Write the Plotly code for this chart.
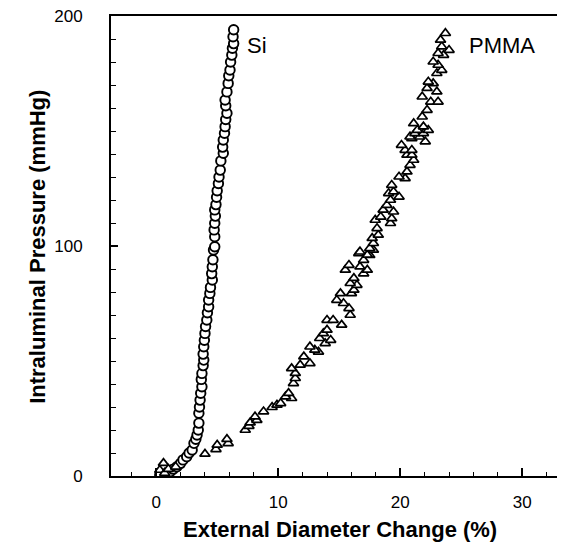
import plotly.graph_objects as go

# Si sample: external diameter change (%) vs intraluminal pressure (mmHg)
si_x = [0.3, 0.8, 1.15, 1.4, 1.7, 2.0, 2.2, 2.5, 2.7, 2.95, 3.1, 3.25, 3.35, 3.45, 3.5,
        3.5, 3.55, 3.6, 3.65, 3.75, 3.7, 3.75, 3.85, 3.9, 3.85, 3.9, 3.95, 4.0, 4.05, 4.15,
        4.2, 4.3, 4.3, 4.4, 4.45, 4.6, 4.55, 4.6, 4.65, 4.7, 4.8, 4.8, 4.75, 4.8, 4.85,
        4.8, 4.9, 4.95, 5.0, 5.1, 5.15, 5.25, 5.3, 5.5, 5.45, 5.5, 5.6, 5.65, 5.7, 5.8,
        5.7, 5.65, 5.8, 5.9, 5.95, 6.05, 6.1, 6.2, 6.25, 6.35, 6.3, 6.35]
si_y = [0.5, 1, 1.9, 3, 4, 5.5, 7, 8.4, 10, 11.3, 14.2, 16, 17.8, 20, 23,
        27.3, 30, 33, 36, 38.8, 42, 44.6, 48, 50.4, 53, 56.2, 59, 62, 65, 67.8,
        71, 73.6, 76.5, 79.4, 82, 85.2, 88, 91, 94, 98.3, 99.7, 104, 107, 109.9, 113,
        115.7, 118, 121.2, 124, 127.2, 130, 133, 137, 140.3, 143, 146.1, 149, 151.9, 155, 157.7,
        161, 163.5, 167, 170.7, 174, 176.5, 180, 183, 186, 188, 191, 194]

# PMMA sample
pmma_x = [0.3, 0.7, 0.6, 1.0, 1.6, 4.0, 4.9, 5.0, 5.9, 5.8, 7.3, 7.6, 7.7, 8.25, 8.1,
          8.8, 9.5, 9.9, 10.2, 11.1, 10.6, 10.85, 11.25, 11.4, 11.4, 11.1, 11.8, 12.6, 12.1, 13.3,
          13.0, 12.6, 13.85, 14.3, 13.4, 13.7, 14.0, 15.2, 14.0, 14.5, 15.9, 15.8, 15.35, 14.8, 15.1,
          16.0, 16.2, 16.45, 15.9, 16.2, 17.0, 15.5, 17.3, 16.7, 15.8, 17.0, 17.5, 17.3, 16.6, 16.7,
          17.8, 17.5, 17.8, 17.7, 18.2, 18.1, 19.2, 17.95, 19.3, 18.4, 19.45, 18.6, 18.9, 19.2, 19.9,
          19.05, 19.45, 19.3, 20.4, 19.9, 20.55, 20.8, 21.1, 20.55, 20.95, 20.4, 20.95, 20.1, 22.05, 20.95,
          20.8, 21.6, 21.2, 21.9, 21.4, 22.3, 21.9, 21.1, 21.8, 22.2, 22.5, 23.1, 21.8, 23.0, 22.2,
          22.7, 22.3, 23.0, 23.4, 23.1, 22.7, 23.55, 23.1, 24.0, 23.4, 23.3, 23.7]
pmma_y = [2.6, 1.3, 5.6, 3, 4, 9.6, 11.6, 13.5, 14.2, 16, 20, 21.7, 23.2, 24.3, 25.8,
          28, 29.9, 30.9, 31.6, 33.8, 34.5, 36, 40.3, 42.5, 44.7, 46.8, 48.3, 49, 51.9, 54,
          54.8, 56.2, 57.7, 59.1, 59.9, 62, 63.5, 65.7, 67.8, 67.8, 70, 72.9, 75.1, 76.5, 79.4,
          79.4, 80.9, 83, 83.8, 86, 88, 89.6, 89.6, 91, 91.7, 93.9, 96, 96.1, 96.8, 97.5,
          98.3, 99, 101.2, 103.4, 104.8, 107.7, 109.9, 111.3, 112, 112.7, 114.9, 115.7, 117.8, 120, 121.4,
          122.9, 123.6, 126.5, 129.4, 130.1, 132.3, 135.2, 137.4, 139.6, 139.6, 141.7, 141.7, 143.9, 145.4, 146.8,
          147.5, 147.5, 149, 149, 150.4, 150.4, 151.9, 153.3, 156.2, 159.1, 162.7, 162.7, 164.9, 167.1, 168.6,
          170.7, 171.4, 175.1, 176.5, 178.7, 180.1, 183, 183.8, 185.2, 186.7, 189.6, 192.5]

FONT = "Liberation Sans, Arial, sans-serif"

fig = go.Figure()
fig.add_trace(go.Scatter(
    x=si_x, y=si_y, mode="markers", name="Si",
    marker=dict(symbol="circle", size=9.5, color="white",
                line=dict(color="black", width=1.9)),
))
fig.add_trace(go.Scatter(
    x=pmma_x, y=pmma_y, mode="markers", name="PMMA",
    marker=dict(symbol="triangle-up", size=9, color="white",
                line=dict(color="black", width=1.7)),
))

fig.add_annotation(x=8.3, y=187, text="Si", showarrow=False,
                   font=dict(family=FONT, size=22, color="black"))
fig.add_annotation(x=28.3, y=187, text="PMMA", showarrow=False,
                   font=dict(family=FONT, size=22, color="black"))

# axis titles placed as annotations
fig.add_annotation(x=0.504, y=-0.117, xref="paper", yref="paper",
                   xanchor="center", yanchor="middle", showarrow=False,
                   text="<b>External Diameter Change (%)</b>",
                   font=dict(family=FONT, size=22, color="black"))
fig.add_annotation(x=-0.161, y=0.498, xref="paper", yref="paper",
                   xanchor="center", yanchor="middle", showarrow=False, textangle=-90,
                   text="<b>Intraluminal Pressure (mmHg)</b>",
                   font=dict(family=FONT, size=22, color="black"))

# page body has an 8px margin, so the figure is a bit smaller than the window
fig.update_layout(
    width=557, height=550,
    margin=dict(l=103, r=0, t=8, b=82),
    paper_bgcolor="white", plot_bgcolor="white",
    showlegend=False,
    font=dict(family=FONT, size=17, color="black"),
    xaxis=dict(
        range=[-3.7, 33.5], tickvals=[0, 10, 20, 30], showgrid=False, zeroline=False,
        showline=True, linecolor="black", linewidth=2, mirror=True,
        ticks="inside", ticklen=8, tickwidth=1.5, tickcolor="black",
        minor=dict(dtick=2, tick0=0, ticks="inside", ticklen=4, tickwidth=1.2, tickcolor="black"),
        tickfont=dict(size=17), ticklabelstandoff=10,
    ),
    yaxis=dict(
        range=[0, 200], tickvals=[0, 100, 200], showgrid=False, zeroline=False,
        showline=True, linecolor="black", linewidth=2, mirror=False,
        ticks="inside", ticklen=7, tickwidth=1.5, tickcolor="black",
        minor=dict(dtick=10, tick0=0, ticks="inside", ticklen=5, tickwidth=1.2, tickcolor="black"),
        tickfont=dict(size=17), ticklabelstandoff=23, ticklabeloverflow="allow",
    ),
)

fig.write_html("out.html")
